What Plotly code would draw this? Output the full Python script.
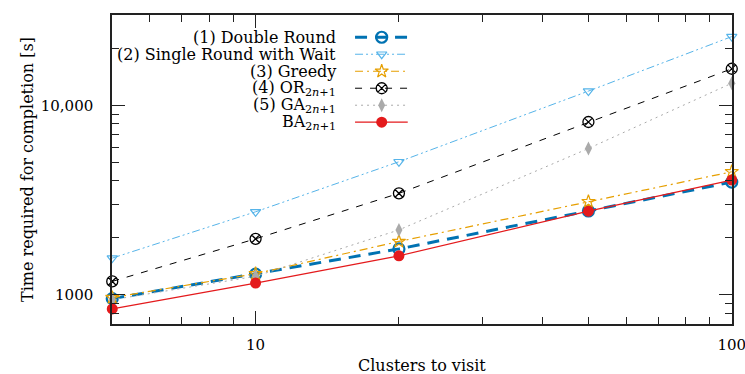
import plotly.graph_objects as go
import math

# ---- data ----
clusters = [5, 10, 20, 50, 100]
double_round = [953, 1285, 1745, 2767, 3934]
single_round_wait = [1560, 2740, 5035, 11890, 23070]
greedy = [965, 1290, 1910, 3099, 4457]
or_2n1 = [1175, 1972, 3428, 8165, 15600]
ga_2n1 = [940, 1250, 2198, 5916, 13090]
ba_2n1 = [841, 1152, 1604, 2760, 4029]

series_names = [
    "(1) Double Round",
    "(2) Single Round with Wait",
    "(3) Greedy",
    "(4) OR<sub>2<i>n</i>+1</sub>",
    "(5) GA<sub>2<i>n</i>+1</sub>",
    "BA<sub>2<i>n</i>+1</sub>",
]

x_major = [5, 10, 100]
x_major_text = ["", "10", "100"]
x_minor = [6, 7, 8, 9, 20, 30, 40, 50, 60, 70, 80, 90]
y_major = [1000, 10000]
y_major_text = ["1000", "10,000"]
y_minor = [700, 800, 900, 2000, 3000, 4000, 5000, 6000, 7000, 8000, 9000, 20000, 30000]

styles = [
    dict(color="#0072B2", width=3, dash="12px,8px", symbol="circle-open", size=11, mlw=2.2),
    dict(color="#56B4E9", width=1, dash="8px,3px,2px,3px,2px,3px", symbol="triangle-down-open", size=9, mlw=1.2),
    dict(color="#E69F00", width=1.2, dash="8px,4px,2px,4px", symbol="star-open", size=10, mlw=1.2),
    dict(color="#000000", width=1, dash="7px,8px", symbol="circle-x-open", size=11, mlw=1.3),
    dict(color="#AAAAAA", width=1, dash="2px,4px", symbol="diamond-tall", size=10, mlw=0),
    dict(color="#E41A1C", width=1.2, dash="solid", symbol="circle", size=11, mlw=0),
]
all_series = [double_round, single_round_wait, greedy, or_2n1, ga_2n1, ba_2n1]

FONT = "DejaVu Serif"
AX = "#222222"

fig = go.Figure()

# data traces
for name, ys, st in zip(series_names, all_series, styles):
    fig.add_trace(go.Scatter(
        x=clusters, y=ys, mode="lines+markers", name=name, showlegend=False,
        line=dict(color=st["color"], width=st["width"], dash=st["dash"]),
        marker=dict(symbol=st["symbol"], size=st["size"], color=st["color"],
                    line=dict(color=st["color"], width=st["mlw"])),
        cliponaxis=False,
    ))

# custom legend (gnuplot-style: text right-aligned, sample on the right)
leg_x0, leg_x1, leg_xm = 0.392, 0.477, 0.435
leg_text_x = 0.3645
row0, row_step = 0.928, 0.055
for i, (name, st) in enumerate(zip(series_names, styles)):
    yy = row0 - i * row_step
    fig.add_trace(go.Scatter(
        x=[leg_x0, leg_x1], y=[yy, yy], xaxis="x2", yaxis="y2", mode="lines",
        showlegend=False, hoverinfo="skip",
        line=dict(color=st["color"], width=st["width"], dash=st["dash"]),
    ))
    fig.add_trace(go.Scatter(
        x=[leg_xm], y=[yy], xaxis="x2", yaxis="y2", mode="markers",
        showlegend=False, hoverinfo="skip",
        marker=dict(symbol=st["symbol"], size=st["size"], color=st["color"],
                    line=dict(color=st["color"], width=st["mlw"])),
    ))
    fig.add_annotation(x=leg_text_x, y=yy, xref="x2 domain", yref="y2",
                       text=name, showarrow=False, xanchor="right", yanchor="middle",
                       font=dict(family=FONT, size=16, color="#000"))

W, H = 745, 374
ml, mr, mt, mb = 112, 13, 15, 50
pw, ph = W - ml - mr, H - mt - mb

# axis titles (placed in paper fractions)
fig.add_annotation(x=0.5, y=-(365 - (H - mb)) / ph, xref="paper", yref="paper",
                   text="Clusters to visit", showarrow=False,
                   xanchor="center", yanchor="middle",
                   font=dict(family=FONT, size=16, color="#000"))
fig.add_annotation(x=-(ml - 27) / pw, y=1 - (170 - mt) / ph, xref="paper", yref="paper",
                   text="Time required for completion [s]", textangle=-90,
                   showarrow=False, xanchor="center", yanchor="middle",
                   font=dict(family=FONT, size=16, color="#000"))

fig.update_layout(
    width=W, height=H,
    margin=dict(l=ml, r=mr, t=mt, b=mb, autoexpand=False),
    paper_bgcolor="white", plot_bgcolor="white",
    font=dict(family=FONT, size=15, color="#000"),
    xaxis=dict(
        type="log", range=[math.log10(5) - 0.0005, 2.0005],
        tickmode="array", tickvals=x_major, ticktext=x_major_text,
        ticks="inside", ticklen=13, tickwidth=1, tickcolor=AX,
        minor=dict(tickmode="array", tickvals=x_minor, ticks="inside", ticklen=7,
                   tickwidth=1, tickcolor=AX, showgrid=False),
        showline=True, linecolor=AX, linewidth=1.5, mirror="allticks",
        showgrid=False, zeroline=False, automargin=False,
        tickfont=dict(family=FONT, size=15),
        ticklabelstandoff=6, ticklabeloverflow="allow",
    ),
    yaxis=dict(
        type="log", range=[math.log10(700), math.log10(30000)],
        tickmode="array", tickvals=y_major, ticktext=y_major_text,
        ticks="inside", ticklen=13, tickwidth=1, tickcolor=AX,
        minor=dict(tickmode="array", tickvals=y_minor, ticks="inside", ticklen=7,
                   tickwidth=1, tickcolor=AX, showgrid=False),
        showline=True, linecolor=AX, linewidth=1.5, mirror="allticks",
        showgrid=False, zeroline=False, automargin=False,
        tickfont=dict(family=FONT, size=15),
        ticklabelstandoff=14, ticklabeloverflow="allow",
    ),
    xaxis2=dict(overlaying="x", range=[0, 1], visible=False, fixedrange=True),
    yaxis2=dict(overlaying="y", range=[0, 1], visible=False, fixedrange=True),
)

fig.write_html("out.html")
